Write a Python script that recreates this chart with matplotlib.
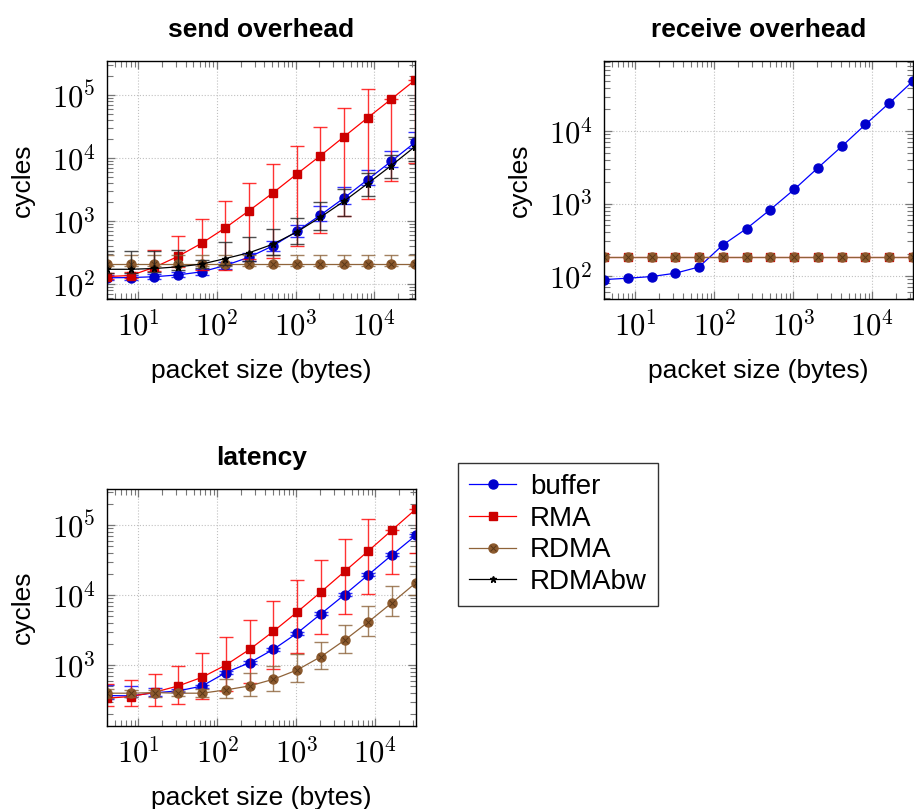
import numpy as np
import matplotlib
matplotlib.use('Agg')
import matplotlib.pyplot as plt
from matplotlib import ticker
from matplotlib.lines import Line2D

plt.rcParams['font.family'] = ['Liberation Sans', 'DejaVu Sans']
plt.rcParams['mathtext.fontset'] = 'cm'

# packet sizes (bytes)
sizes = [4, 8, 16, 32, 64, 128, 256, 512, 1024, 2048, 4096, 8192, 16384, 32768]

# send overhead (cycles), with lower / upper error bounds
send_buffer = [126, 127, 131, 140, 157, 198, 268, 405, 685, 1240, 2330, 4560, 8950, 17800]
send_buffer_lo = [115, 115, 120, 128, 140, 175, 235, 340, 560, 1000, 1900, 3700, 7300, 14500]
send_buffer_hi = [140, 140, 145, 155, 175, 225, 310, 480, 880, 1765, 3450, 6600, 12800, 25900]
send_rma = [132, 137, 185, 276, 447, 785, 1470, 2806, 5560, 10900, 21900, 43800, 87000, 174000]
send_rma_lo = [120, 125, 160, 190, 170, 165, 250, 260, 398, 649, 1194, 2250, 4300, 8430]
send_rma_hi = [150, 155, 343, 580, 1070, 2070, 4020, 8000, 15900, 31200, 62500, 125000, 87000, 174000]
send_rdma = [212] * 14
send_rdma_lo = [195] * 14
send_rdma_hi = [290] * 14
send_rdmabw = [172, 172, 177, 188, 208, 255, 315, 430, 670, 1150, 2070, 3950, 7640, 15300]
send_rdmabw_lo = [150, 150, 155, 165, 180, 200, 230, 290, 438, 733, 1194, 2485, 4800, 9000]
send_rdmabw_hi = [339, 339, 339, 350, 240, 466, 560, 750, 1137, 1995, 3300, 5850, 11400, 22000]

# receive overhead (cycles)
recv_buffer = [89, 93, 98, 109, 133, 268, 451, 826, 1563, 3110, 6140, 12360, 24400, 49100]
recv_rma = [181] * 14
recv_rdma = [181] * 14

# latency (cycles)
lat_buffer = [365, 362, 400, 426, 500, 778, 1080, 1672, 2860, 5390, 10170, 19600, 37800, 71900]
lat_buffer_lo = [330, 347, 355, 405, 475, 740, 1030, 1590, 2720, 5120, 9660, 18600, 35900, 68300]
lat_buffer_hi = [519, 502, 470, 450, 525, 815, 1130, 1755, 3000, 5660, 10680, 20600, 39700, 75500]
lat_rma = [335, 354, 408, 502, 667, 1000, 1672, 3030, 5720, 11090, 21860, 43000, 85800, 171000]
lat_rma_lo = [255, 255, 255, 278, 330, 420, 560, 870, 1500, 2770, 5330, 10280, 20250, 39900]
lat_rma_hi = [536, 611, 736, 978, 1466, 2480, 4380, 8350, 16300, 31400, 62500, 124000, 85800, 171000]
lat_rdma = [395, 395, 403, 395, 395, 440, 502, 625, 849, 1315, 2270, 4150, 7820, 15070]
lat_rdma_lo = [340, 350, 350, 355, 345, 335, 361, 431, 573, 867, 1466, 2620, 4990, 10000]
lat_rdma_hi = [460, 440, 440, 430, 450, 640, 778, 968, 1435, 2150, 3720, 6930, 13360, 25800]

BLUE, BLUE_M = '#0000ff', '#0000cc'
RED, RED_M = '#ff0000', '#cc0000'
BROWN, BROWN_M, BROWN_X = '#8f6339', '#8c5a2e', '#5a3818'
BLACK = '#000000'


def draw(ax, y, lo, hi, color, mcolor, marker, ms, ecolor):
    y = np.array(y, dtype=float)
    if lo is not None:
        err = [y - np.array(lo), np.array(hi) - y]
        ax.errorbar(sizes, y, yerr=err, fmt='none', ecolor=ecolor, elinewidth=1.0,
                    capsize=5, capthick=1.0, alpha=0.8)
    ax.plot(sizes, y, color=color, lw=0.9, marker=marker, ms=ms,
            mfc=mcolor, mec=mcolor)


def draw_rdma(ax, y, lo, hi):
    draw(ax, y, lo, hi, BROWN, BROWN_M, 'o', 6.5, '#8c6239')
    ax.plot(sizes, y, 'x', color=BROWN_X, ms=4.5, mew=0.7)


def style(ax, ylim, title):
    ax.set_xscale('log')
    ax.set_yscale('log')
    ax.set_xlim(4, 32768)
    ax.set_ylim(*ylim)
    fmt = ticker.FuncFormatter(lambda v, p: r'$10^{%d}$' % round(np.log10(v)))
    for axis in (ax.xaxis, ax.yaxis):
        axis.set_major_locator(ticker.LogLocator(base=10, numticks=30))
        axis.set_minor_locator(ticker.LogLocator(base=10, subs=np.arange(2, 10), numticks=60))
        axis.set_major_formatter(fmt)
        axis.set_minor_formatter(ticker.NullFormatter())
    ax.tick_params(which='both', direction='in', top=True, right=True, color='#777777')
    ax.tick_params(which='major', length=6, width=0.9, labelsize=22)
    ax.tick_params(axis='x', which='major', pad=9)
    ax.tick_params(axis='y', which='major', pad=8)
    ax.tick_params(which='minor', length=4, width=0.8)
    ax.grid(True, which='major', linestyle=':', color='#c0c0c0', linewidth=0.8)
    ax.set_axisbelow(True)
    for s in ax.spines.values():
        s.set_linewidth(1.0)
    ax.set_title(title, fontsize=19, fontweight='bold', pad=17)
    ax.set_xlabel('packet size (bytes)', fontsize=19, labelpad=12)
    ax.set_ylabel('cycles', fontsize=19, labelpad=12)


W, H = 914, 809
fig = plt.figure(figsize=(W / 100, H / 100), dpi=100)

ax1 = fig.add_axes([107 / W, 1 - 299 / H, 308 / W, 238 / H])
ax2 = fig.add_axes([604 / W, 1 - 299 / H, 309 / W, 238 / H])
ax3 = fig.add_axes([107 / W, 1 - 726 / H, 309 / W, 237 / H])

# send overhead
draw(ax1, send_buffer, send_buffer_lo, send_buffer_hi, BLUE, BLUE_M, 'o', 6.5, BLUE)
draw(ax1, send_rma, send_rma_lo, send_rma_hi, RED, RED_M, 's', 6, RED)
draw_rdma(ax1, send_rdma, send_rdma_lo, send_rdma_hi)
draw(ax1, send_rdmabw, send_rdmabw_lo, send_rdmabw_hi, BLACK, BLACK, '*', 5, '#222222')
style(ax1, (58, 3.5e5), 'send overhead')

# receive overhead
draw(ax2, recv_buffer, None, None, BLUE, BLUE_M, 'o', 6.5, BLUE)
draw(ax2, recv_rma, None, None, RED, RED_M, 's', 6, RED)
draw_rdma(ax2, recv_rdma, None, None)
style(ax2, (48, 9.3e4), 'receive overhead')

# latency
draw(ax3, lat_buffer, lat_buffer_lo, lat_buffer_hi, BLUE, BLUE_M, 'o', 6.5, BLUE)
draw(ax3, lat_rma, lat_rma_lo, lat_rma_hi, RED, RED_M, 's', 6, RED)
draw_rdma(ax3, lat_rdma, lat_rdma_lo, lat_rdma_hi)
style(ax3, (134, 3.3e5), 'latency')

# legend
h_buf = Line2D([], [], color=BLUE, lw=0.9, marker='o', ms=6.5, mfc=BLUE_M, mec=BLUE_M)
h_rma = Line2D([], [], color=RED, lw=0.9, marker='s', ms=6, mfc=RED_M, mec=RED_M)
h_rd = (Line2D([], [], color=BROWN, lw=0.9, marker='o', ms=6.5, mfc=BROWN_M, mec=BROWN_M),
        Line2D([], [], ls='none', marker='x', ms=4.5, mew=0.7, color=BROWN_X))
h_bw = Line2D([], [], color=BLACK, lw=0.9, marker='*', ms=5)
leg = fig.legend([h_buf, h_rma, h_rd, h_bw], ['buffer', 'RMA', 'RDMA', 'RDMAbw'],
                 loc='upper left', bbox_to_anchor=(458 / W, 1 - 463 / H),
                 fontsize=20, frameon=True, fancybox=False, edgecolor='black',
                 handlelength=1.7, handletextpad=0.5, labelspacing=0.2,
                 borderpad=0.4, borderaxespad=0, numpoints=1)
leg.get_frame().set_linewidth(1.0)

fig.savefig('out.png', dpi=100)
